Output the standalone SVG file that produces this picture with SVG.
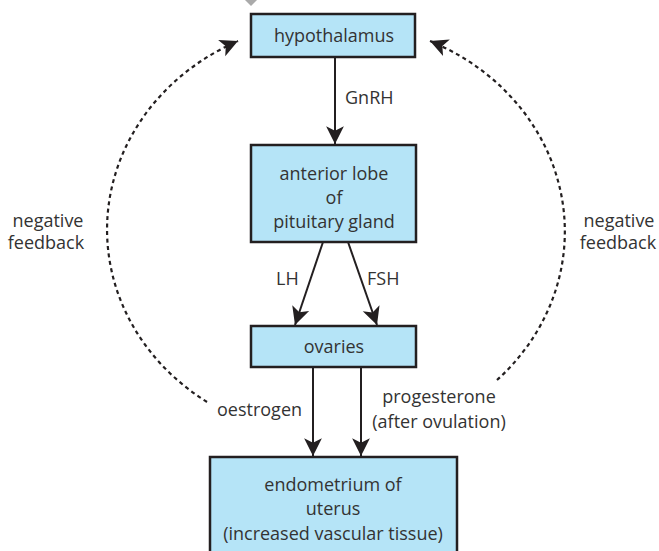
<svg xmlns="http://www.w3.org/2000/svg" width="659" height="551" viewBox="0 0 659 551">
<style>
.box{fill:#b5e4f7;stroke:#231f20;stroke-width:2.5}
.t{font-family:"Open Sans","Noto Sans","Liberation Sans",sans-serif;font-size:18px;fill:#333;text-anchor:middle}
.l{font-family:"Open Sans","Noto Sans","Liberation Sans",sans-serif;font-size:18px;fill:#333}
.c{stroke:#231f20;stroke-width:2;fill:none}
.d{stroke:#231f20;stroke-width:2.2;fill:none;stroke-dasharray:4 3.5}
</style>
<defs>
<marker id="ah" markerUnits="userSpaceOnUse" markerWidth="20" markerHeight="20" viewBox="-17 -9 18 18" refX="0" refY="0" orient="auto">
<path d="M0,0 L-16,-8 L-12,0 L-16,8 z" fill="#231f20"/>
</marker>
</defs>
<polygon points="245,0 257,0 251,6" fill="#aaa"/>
<g id="connectors">
<line class="c" x1="335" y1="57" x2="335" y2="144" marker-end="url(#ah)"/>
<line class="c" x1="323" y1="242" x2="295" y2="325" marker-end="url(#ah)"/>
<line class="c" x1="348" y1="242" x2="377" y2="325" marker-end="url(#ah)"/>
<line class="c" x1="313" y1="367" x2="313" y2="456" marker-end="url(#ah)"/>
<line class="c" x1="361" y1="367" x2="361" y2="456" marker-end="url(#ah)"/>
<path class="d" d="M207,402 A230,209 0 0 1 238,41" marker-end="url(#ah)"/>
<path class="d" d="M497,380 A229,209 0 0 0 430,41" marker-end="url(#ah)"/>
<text class="l" x="345" y="104">GnRH</text>
<text class="l" x="276" y="285">LH</text>
<text class="l" x="367" y="285">FSH</text>
<text class="l" x="217" y="416">oestrogen</text>
<text class="t" x="439" y="403">progesterone</text>
<text class="t" x="439" y="428">(after ovulation)</text>
<text class="t" x="48" y="227">negative</text>
<text class="t" x="46" y="249">feedback</text>
<text class="t" x="619" y="227">negative</text>
<text class="t" x="618" y="249">feedback</text>
</g>
<g id="hypothalamus">
<rect class="box" x="251" y="14" width="164" height="43"/>
<text class="t" x="334" y="42">hypothalamus</text>
</g>
<g id="pituitary">
<rect class="box" x="251" y="145" width="165" height="97"/>
<text class="t" x="334" y="180">anterior lobe</text>
<text class="t" x="334" y="204">of</text>
<text class="t" x="334" y="228">pituitary gland</text>
</g>
<g id="ovaries">
<rect class="box" x="251" y="326" width="165" height="41"/>
<text class="t" x="334" y="353">ovaries</text>
</g>
<g id="endometrium">
<rect class="box" x="210" y="457" width="247" height="110"/>
<text class="t" x="333" y="491">endometrium of</text>
<text class="t" x="333" y="515">uterus</text>
<text class="t" x="333" y="540">(increased vascular tissue)</text>
</g>
</svg>
